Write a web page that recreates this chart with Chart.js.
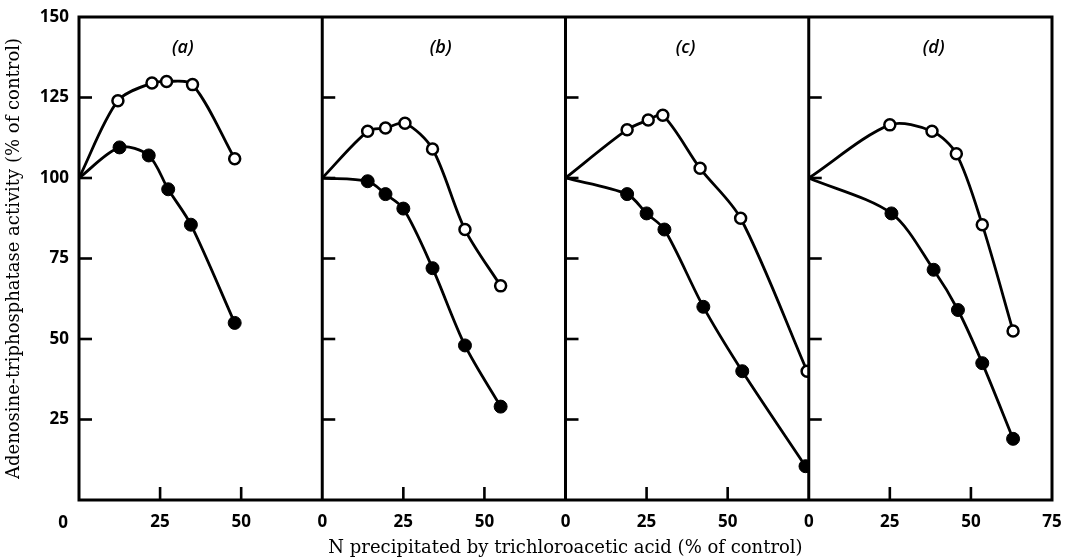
<!DOCTYPE html>
<html>
<head>
<meta charset="utf-8">
<script src="https://cdn.jsdelivr.net/npm/chart.js@4.4.1/dist/chart.umd.min.js"></script>
<style>
  html, body { margin: 0; padding: 0; background: #fff; }
  #wrap { width: 1067px; height: 560px; }
</style>
</head>
<body>
<div id="wrap"><canvas id="atpChart" width="1067" height="560"></canvas></div>
<script>
// four panels side by side, each runs 0..75 on the x axis
const panelNames = ['(a)', '(b)', '(c)', '(d)'];
const panelSpan = 75;
const xTicksInPanel = [25, 50];
const yTicks = [25, 50, 75, 100, 125];

// [N precipitated %, ATPase activity %]; open = o, filled = •
const aOpen   = [[0, 100], [12, 124], [22.5, 129.5], [27, 130], [35, 129], [48, 106]];
const aFilled = [[0, 100], [12.5, 109.5], [21.5, 107], [27.5, 96.5], [34.5, 85.5], [48, 55]];
const bOpen   = [[0, 100], [14, 114.5], [19.5, 115.5], [25.5, 117], [34, 109], [44, 84], [55, 66.5]];
const bFilled = [[0, 100], [14, 99], [19.5, 95], [25, 90.5], [34, 72], [44, 48], [55, 29]];
const cOpen   = [[0, 100], [19, 115], [25.5, 118], [30, 119.5], [41.5, 103], [54, 87.5], [74.5, 40]];
const cFilled = [[0, 100], [19, 95], [25, 89], [30.5, 84], [42.5, 60], [54.5, 40], [74, 10.5]];
const dOpen   = [[0, 100], [25, 116.5], [38, 114.5], [45.5, 107.5], [53.5, 85.5], [63, 52.5]];
const dFilled = [[0, 100], [25.5, 89], [38.5, 71.5], [46, 59], [53.5, 42.5], [63, 19]];

const panels = [[aOpen, aFilled], [bOpen, bFilled], [cOpen, cFilled], [dOpen, dFilled]];

const tickFont = { family: '"Open Sans"', size: 17, weight: 'bold' };
const titleFamily = '"DejaVu Serif", "Liberation Serif", serif';

const datasets = [];
panels.forEach((pair, k) => {
  pair.forEach((pts, j) => {
    const open = j === 0;
    datasets.push({
      panel: k,
      data: pts.map(p => ({ x: p[0] + k * panelSpan, y: p[1] })),
      borderColor: '#000',
      borderWidth: 2.8,
      tension: 0.3,
      fill: false,
      clip: false,
      pointRadius: c => c.dataIndex === 0 ? 0 : (open ? 5.5 : 6.5),
      pointBorderWidth: open ? 2.5 : 1,
      pointBackgroundColor: open ? '#fff' : '#000',
      pointBorderColor: '#000'
    });
  });
});

const panelDeco = {
  id: 'panelDeco',
  beforeDatasetDraw(chart, args) {
    const x = chart.scales.x;
    const k = chart.data.datasets[args.index].panel;
    const a = chart.chartArea;
    const ctx = chart.ctx;
    ctx.save();
    ctx.beginPath();
    ctx.rect(x.getPixelForValue(k * panelSpan), a.top, x.getPixelForValue((k + 1) * panelSpan) - x.getPixelForValue(k * panelSpan), a.bottom - a.top);
    ctx.clip();
  },
  afterDatasetDraw(chart) {
    chart.ctx.restore();
  },
  afterDatasetsDraw(chart, args, opts) {
    const ctx = chart.ctx;
    const x = chart.scales.x, y = chart.scales.y;
    const a = chart.chartArea;
    ctx.save();
    ctx.strokeStyle = '#000';
    ctx.lineWidth = 3;
    ctx.strokeRect(a.left, a.top, a.right - a.left, a.bottom - a.top);
    for (let k = 1; k < panelNames.length; k++) {
      const px = x.getPixelForValue(k * panelSpan);
      ctx.beginPath();
      ctx.moveTo(px, a.top);
      ctx.lineTo(px, a.bottom);
      ctx.stroke();
    }
    // inward tick marks
    ctx.lineWidth = 2.6;
    for (let k = 0; k < panelNames.length; k++) {
      const px = x.getPixelForValue(k * panelSpan);
      yTicks.forEach(v => {
        const py = y.getPixelForValue(v);
        ctx.beginPath();
        ctx.moveTo(px, py);
        ctx.lineTo(px + 13, py);
        ctx.stroke();
      });
      xTicksInPanel.forEach(v => {
        const tx = x.getPixelForValue(k * panelSpan + v);
        ctx.beginPath();
        ctx.moveTo(tx, a.bottom);
        ctx.lineTo(tx, a.bottom - 13);
        ctx.stroke();
      });
    }
    // panel letters
    ctx.fillStyle = '#000';
    ctx.font = 'italic 600 18px "Open Sans"';
    ctx.textAlign = 'center';
    ctx.textBaseline = 'middle';
    panelNames.forEach((name, k) => {
      ctx.fillText(name, x.getPixelForValue(k * panelSpan + opts.labelX[k]), y.getPixelForValue(opts.labelY));
    });
    // shared origin label
    ctx.font = 'bold 17px "Open Sans"';
    ctx.fillText('0', a.left - 16, a.bottom + 23);
    ctx.restore();
  }
};

new Chart(document.getElementById('atpChart').getContext('2d'), {
  type: 'line',
  data: { datasets: datasets },
  options: {
    responsive: false,
    animation: false,
    devicePixelRatio: 1,
    layout: { padding: { top: 17, right: 15, left: 0, bottom: 0 } },
    plugins: {
      legend: { display: false },
      tooltip: { enabled: false },
      panelDeco: { labelX: [32, 36.5, 37, 38.5], labelY: 140.3 }
    },
    scales: {
      x: {
        type: 'linear',
        min: 0,
        max: panelSpan * panelNames.length,
        grid: { display: false, drawTicks: false },
        border: { display: false },
        afterFit: s => { s.height = 60; s.paddingLeft = 0; s.paddingRight = 0; },
        ticks: {
          stepSize: 25,
          autoSkip: false,
          maxRotation: 0,
          padding: 12,
          color: '#000',
          font: tickFont,
          callback: v => {
            if (v === 0) return '';
            if (v === panelSpan * panelNames.length) return String(panelSpan);
            return String(v % panelSpan);
          }
        },
        title: {
          display: true,
          text: 'N precipitated by trichloroacetic acid (% of control)',
          color: '#000',
          font: { family: titleFamily, size: 18 },
          padding: { top: 0, bottom: 1 }
        }
      },
      y: {
        min: 0,
        max: 150,
        grid: { display: false, drawTicks: false },
        border: { display: false },
        afterFit: s => { s.width = 79; s.paddingTop = 0; s.paddingBottom = 0; },
        ticks: {
          stepSize: 25,
          padding: 10,
          color: '#000',
          font: tickFont,
          callback: v => v === 0 ? '' : v
        },
        title: {
          display: true,
          text: 'Adenosine-triphosphatase activity (% of control)',
          color: '#000',
          font: { family: titleFamily, size: 18 },
          padding: { top: 4, bottom: 0 }
        }
      }
    }
  },
  plugins: [panelDeco]
});
</script>
</body>
</html>
